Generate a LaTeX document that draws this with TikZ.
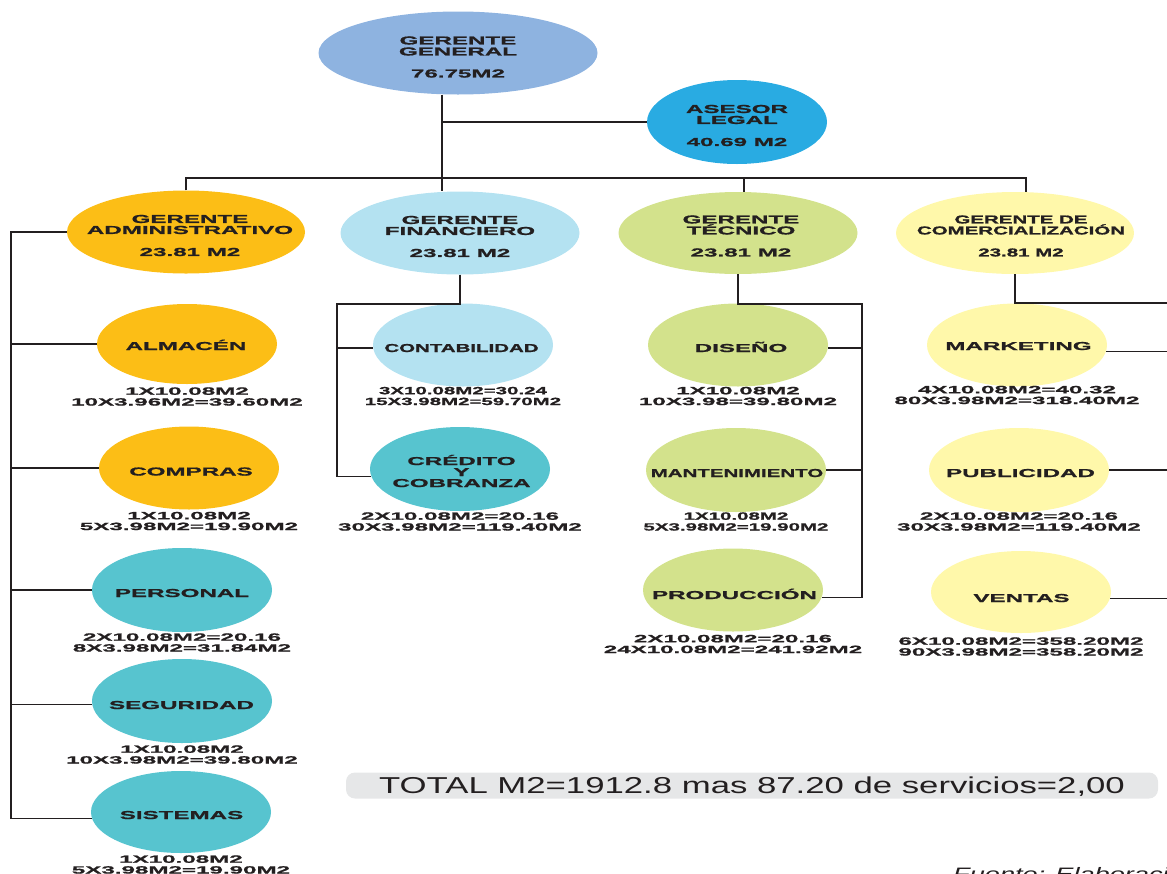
\documentclass[tikz,border=0pt]{standalone}
\usepackage{fontspec}
\usepackage{xcolor}
\usetikzlibrary{shapes.geometric,positioning}
\newfontfamily\orgfont[FakeStretch=2.1,BoldFeatures={FakeBold=1.2}]{Liberation Sans}
\newfontfamily\orgnarrow[FakeStretch=1.78,BoldFeatures={FakeBold=1.2}]{Liberation Sans}
\newfontfamily\areafont[FakeStretch=2.3,BoldFeatures={FakeBold=1.2}]{Liberation Sans}
\newfontfamily\areanarrow[FakeStretch=1.95,BoldFeatures={FakeBold=1.2}]{Liberation Sans}
\newfontfamily\plainfont[FakeStretch=1.51]{Liberation Sans}
\definecolor{generalblue}{HTML}{8EB3E0}
\definecolor{legalblue}{HTML}{29ABE2}
\definecolor{adminamber}{HTML}{FCBE16}
\definecolor{finblue}{HTML}{B4E2F1}
\definecolor{deepteal}{HTML}{57C4CF}
\definecolor{tecgreen}{HTML}{D3E28C}
\definecolor{comyellow}{HTML}{FFF8AA}
\definecolor{inkgray}{HTML}{231F20}
\definecolor{boxgray}{HTML}{E6E7E8}
\tikzset{
  unit/.style={
    ellipse,
    fill=#1,
    inner sep=0pt,
  },
  mgrnode/.style={unit=#1, minimum width=238pt, minimum height=83pt},
  deptnode/.style={unit=#1, minimum width=180pt, minimum height=83pt},
  unit text/.style={
    align=center,
    inner sep=0pt,
    text=inkgray,
    font=\orgfont\bfseries\fontsize{11.5}{11}\selectfont,
  },
  narrow text/.style={
    unit text,
    font=\orgnarrow\bfseries\fontsize{11.5}{11}\selectfont,
  },
  area/.style={
    align=center,
    inner sep=0pt,
    text=inkgray,
    font=\areafont\bfseries\fontsize{10.5}{10.8}\selectfont,
  },
  narrow area/.style={
    area,
    font=\areanarrow\bfseries\fontsize{10.5}{10.8}\selectfont,
  },
  link/.style={draw=inkgray, line width=1.3pt},
  totalbox/.style={
    rounded corners=9pt,
    fill=boxgray,
    minimum width=812pt,
    minimum height=26pt,
    inner sep=0pt,
    text depth=0pt,
    text=inkgray,
    font=\plainfont\fontsize{23}{26}\selectfont,
  },
  credit/.style={
    anchor=base west,
    inner sep=0pt,
    text=inkgray,
    font=\plainfont\itshape\fontsize{18}{20}\selectfont,
  }
}

\begin{document}
\begin{tikzpicture}[x=1pt, y=-1pt]
  \useasboundingbox (0,0) rectangle (1167,873);
  \clip (0,0) rectangle (1167,873);

  % ellipses
  \node [mgrnode=generalblue, minimum width=279pt] (gg) at (458,53) {};
  \node [deptnode=legalblue, minimum height=84pt] (al) at (737,122) {};
  \node [mgrnode=adminamber] (ga) at (186,232) {};
  \node [mgrnode=finblue, minimum width=239pt] (gf) at (460,233) {};
  \node [mgrnode=tecgreen, minimum width=239pt, minimum height=82pt] (gt) at (738,233) {};
  \node [mgrnode=comyellow, minimum height=82pt] (gc) at (1015,233) {};

  \node [deptnode=adminamber, minimum height=80pt] (alm) at (187,344) {};
  \node [deptnode=adminamber] (com) at (189,468) {};
  \node [deptnode=deepteal, minimum height=84pt] (per) at (182,590) {};
  \node [deptnode=deepteal, minimum height=84pt] (seg) at (182,701) {};
  \node [deptnode=deepteal, minimum height=82pt] (sis) at (181,812) {};

  \node [deptnode=finblue] (con) at (463,345) {};
  \node [deptnode=deepteal, minimum height=84pt] (cyc) at (460,469) {};

  \node [deptnode=tecgreen] (dis) at (738,345) {};
  \node [deptnode=tecgreen, minimum height=84pt] (man) at (736,470) {};
  \node [deptnode=tecgreen] (pro) at (733,590) {};

  \node [deptnode=comyellow] (mkt) at (1017,345) {};
  \node [deptnode=comyellow, minimum height=84pt] (pub) at (1019,470) {};
  \node [deptnode=comyellow, minimum height=82pt] (ven) at (1021,592) {};

  % titles
  \node [unit text] (gg-t) at (458,57) {GERENTE\\GENERAL\\[11pt]76.75M2};
  \node [unit text] (al-t) at (737,125.5) {ASESOR\\LEGAL\\[11pt]40.69 M2};
  \node [unit text] (ga-t) at (190,235.5) {GERENTE\\ADMINISTRATIVO\\[11pt]23.81 M2};
  \node [unit text] (gf-t) at (460,236.5) {GERENTE\\FINANCIERO\\[11pt]23.81 M2};
  \node [unit text] (gt-t) at (741,236) {GERENTE\\TÉCNICO\\[11pt]23.81 M2};
  \node [narrow text] (gc-t) at (1021,236) {GERENTE DE\\COMERCIALIZACIÓN\\[11pt]23.81 M2};

  \node [unit text, anchor=base] (alm-t) at (186,350) {ALMACÉN};
  \node [unit text, anchor=base] (com-t) at (191,475.5) {COMPRAS};
  \node [unit text, anchor=base] (per-t) at (182,597) {PERSONAL};
  \node [unit text, anchor=base] (seg-t) at (181.5,709) {SEGURIDAD};
  \node [unit text, anchor=base] (sis-t) at (181.5,819) {SISTEMAS};
  \node [narrow text, anchor=base] (con-t) at (461.5,352) {CONTABILIDAD};
  \node [unit text] (cyc-t) at (461.5,471) {CRÉDITO\\Y\\COBRANZA};
  \node [unit text, anchor=base] (dis-t) at (741,352) {DISEÑO};
  \node [narrow text, anchor=base] (man-t) at (737,477) {MANTENIMIENTO};
  \node [unit text, anchor=base] (pro-t) at (734.5,599) {PRODUCCIÓN};
  \node [unit text, anchor=base] (mkt-t) at (1018.5,350) {MARKETING};
  \node [unit text, anchor=base] (pub-t) at (1020.5,477) {PUBLICIDAD};
  \node [unit text, anchor=base] (ven-t) at (1021.5,602) {VENTAS};

  % surfaces
  \node [area, below=3pt of alm] (alm-a) {1X10.08M2\\10X3.96M2=39.60M2};
  \node [area, below=2pt of com] (com-a) {1X10.08M2\\5X3.98M2=19.90M2};
  \node [area, below=1pt of per] (per-a) {2X10.08M2=20.16\\8X3.98M2=31.84M2};
  \node [area, below=2pt of seg] (seg-a) {1X10.08M2\\10X3.98M2=39.80M2};
  \node [area, below=2pt of sis] (sis-a) {1X10.08M2\\5X3.98M2=19.90M2};
  \node [narrow area, below=0pt of con] (con-a) {3X10.08M2=30.24\\15X3.98M2=59.70M2};
  \node [area, below=1pt of cyc] (cyc-a) {2X10.08M2=20.16\\30X3.98M2=119.40M2};
  \node [area, below=0pt of dis] (dis-a) {1X10.08M2\\10X3.98=39.80M2};
  \node [narrow area, below=0pt of man] (man-a) {1X10.08M2\\5X3.98M2=19.90M2};
  \node [area, below=3pt of pro] (pro-a) {2X10.08M2=20.16\\24X10.08M2=241.92M2};
  \node [area, below=-1pt of mkt] (mkt-a) {4X10.08M2=40.32\\80X3.98M2=318.40M2};
  \node [area, below=0pt of pub] (pub-a) {2X10.08M2=20.16\\30X3.98M2=119.40M2};
  \node [area, below=4pt of ven] (ven-a) {6X10.08M2=358.20M2\\90X3.98M2=358.20M2};

  % connectors
  \coordinate (trunk) at (442,178);
  \coordinate (gtdrop) at (744,178);
  \coordinate (gcdrop) at (1026,178);
  \coordinate (gabus) at (11,232);
  \coordinate (gfbus) at (337,304);
  \coordinate (gtbus) at (862,304);
  \coordinate (gcbus) at (1180,303);

  \draw [link] (trunk |- gg.south) -- (trunk |- gf.north);
  \draw [link] (trunk |- al.west) -- (al.west);
  \draw [link] (ga.north) |- (gcdrop) -- (gcdrop |- gc.north);
  \draw [link] (gtdrop) -- (gtdrop |- gt.north);

  \draw [link] (ga.west) -- (gabus) |- (sis.184);
  \draw [link] (gabus |- alm.west) -- (alm.west);
  \draw [link] (gabus |- com.west) -- (com.west);
  \draw [link] (gabus |- per.west) -- (per.west);
  \draw [link] (gabus |- seg.182) -- (seg.182);

  \draw [link] (gf.south) |- (gfbus) |- (cyc.185);
  \draw [link] (gfbus |- con.182) -- (con.182);

  \draw [link] (gt.south) |- (gtbus) |- (pro.-5);
  \draw [link] (gtbus |- dis.-2) -- (dis.-2);
  \draw [link] (gtbus |- man.east) -- (man.east);

  \draw [link] (gc.south) |- (gcbus) |- (ven.-4);
  \draw [link] (gcbus |- mkt.-4) -- (mkt.-4);
  \draw [link] (gcbus |- pub.east) -- (pub.east);

  \node [totalbox] (total) at (752,785.5) {TOTAL M2=1912.8 mas 87.20 de servicios=2,00};
  \node [credit] (src) at (953,880) {Fuente: Elaboración propia};
\end{tikzpicture}
\end{document}
